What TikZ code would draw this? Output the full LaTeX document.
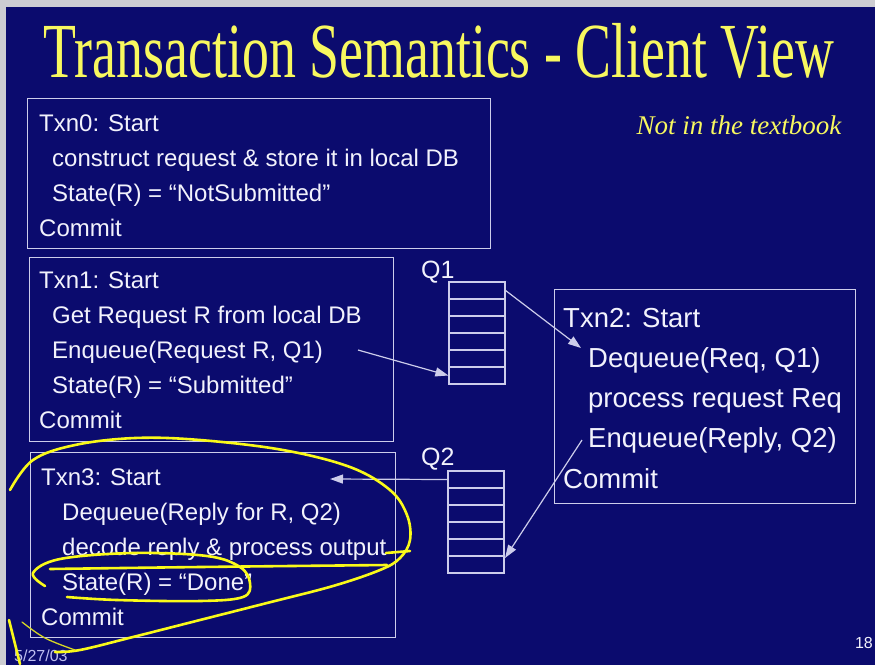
\documentclass[tikz,border=0pt]{standalone}
\usepackage{fontspec}
\setmainfont{Liberation Sans}
\newfontfamily\titlefont[FakeStretch=0.69]{Liberation Serif}
\newfontfamily\notefont{Liberation Serif}
\usetikzlibrary{arrows.meta}

\definecolor{slidebg}{RGB}{11,11,110}
\definecolor{framegrey}{RGB}{205,205,210}
\definecolor{inkwhite}{RGB}{242,242,252}
\definecolor{rulecol}{RGB}{205,205,235}
\definecolor{titleyellow}{RGB}{248,248,95}
\definecolor{penyellow}{RGB}{250,250,25}
\definecolor{footcol}{RGB}{190,190,240}

\tikzset{
  txnbox/.style={draw=rulecol, line width=1.3pt, inner sep=0pt, anchor=north west},
  txt/.style={text=inkwhite, inner sep=0pt, anchor=base west,
    font=\fontsize{24}{35}\selectfont},
  bigtxt/.style={txt, font=\fontsize{27.5}{40.25}\selectfont},
  cell/.style={draw=rulecol, line width=1.2pt, minimum width=56pt,
    minimum height=17pt, inner sep=0pt},
  qlabel/.style={text=inkwhite, inner sep=0pt, anchor=base west,
    font=\fontsize{25}{25}\selectfont},
  flow/.style={draw=rulecol, line width=1.2pt,
    -{Triangle[length=13pt,width=9pt]}},
  pen/.style={draw=penyellow, line width=2.6pt, line cap=round, line join=round},
  thinpen/.style={draw=penyellow!85!slidebg, line width=1.3pt, line cap=round}
}

\begin{document}
\begin{tikzpicture}[x=1pt, y=-1pt]
\useasboundingbox (0,0) rectangle (875,665);
\clip (0,0) rectangle (875,665);

% slide frame and background
\fill[framegrey] (0,0) rectangle (875,665);
\fill[slidebg] (6,7) rectangle (875,665);

% title and side note
\node[font=\titlefont\fontsize{78}{78}\selectfont, text=titleyellow,
  anchor=base, inner sep=0pt] (title) at (439,77)
  {Transaction Semantics - Client View};
\node[font=\notefont\itshape\fontsize{27}{27}\selectfont, text=titleyellow,
  anchor=base, inner sep=0pt] (note) at (739,134) {Not in the textbook};

% transaction boxes
\node[txnbox, minimum width=463pt, minimum height=150pt] (b0) at (27,98) {};
\node[txnbox, minimum width=364pt, minimum height=184pt] (b1) at (29,257) {};
\node[txnbox, minimum width=365pt, minimum height=185pt] (b3) at (30,452) {};
\node[txnbox, minimum width=301pt, minimum height=214pt] (b2) at (554,289) {};

\node[txt] (t0) at (39,131) {\begin{tabular}[t]{@{}l@{}}
  Txn0: Start\\
  \hspace*{13pt}construct request \& store it in local DB\\
  \hspace*{13pt}State(R) = “NotSubmitted”\\
  Commit
\end{tabular}};

\node[txt] (t1) at (39,288) {\begin{tabular}[t]{@{}l@{}}
  Txn1: Start\\
  \hspace*{13pt}Get Request R from local DB\\
  \hspace*{13pt}Enqueue(Request R, Q1)\\
  \hspace*{13pt}State(R) = “Submitted”\\
  Commit
\end{tabular}};

\node[txt] (t3) at (41,485) {\begin{tabular}[t]{@{}l@{}}
  Txn3: Start\\
  \hspace*{21pt}Dequeue(Reply for R, Q2)\\
  \hspace*{21pt}decode reply \& process output\\
  \hspace*{21pt}State(R) = “Done”\\
  Commit
\end{tabular}};

\node[bigtxt] (t2) at (563,327) {\begin{tabular}[t]{@{}l@{}}
  Txn2: Start\\
  \hspace*{25pt}Dequeue(Req, Q1)\\
  \hspace*{25pt}process request Req\\
  \hspace*{25pt}Enqueue(Reply, Q2)\\
  Commit
\end{tabular}};

% queues
\foreach \i in {1,...,6} {
  \node[cell] (q1c\i) at (477,{273.5+17*\i}) {};
  \node[cell] (q2c\i) at (476,{462.5+17*\i}) {};
}
\node[qlabel] (q1) at (421,278) {Q1};
\node[qlabel] (q2) at (421,465) {Q2};

% connector end points
\coordinate (enq1) at (358,350);
\coordinate (deq1) at (581,348);
\coordinate (enq2) at (582,440);
\coordinate (deq2) at (330,479);
\coordinate (q2in) at (505,558);

\draw[flow] (enq1) -- (q1c6.west);
\draw[flow] (q1c1.east) -- (deq1);
\draw[flow] (enq2) -- (q2in);
\draw[flow] (q2c1.west) -- (deq2);

% footer
\node[text=footcol, font=\fontsize{16}{16}\selectfont, anchor=base west,
  inner sep=0pt] (date) at (14,661) {5/27/03};
\node[text=inkwhite, font=\fontsize{16}{16}\selectfont, anchor=base east,
  inner sep=0pt] (page) at (873,648) {18};

% hand-drawn highlighting
\draw[pen] plot[smooth, tension=0.6] coordinates {
  (10,490) (33,460) (75,445) (135,438) (200,440) (283,450) (350,467)
  (390,490) (407,515) (410,540) (400,558) (380,570) (333,586) (267,603)
  (200,620) (133,637) (80,650) (55,652)};
\draw[pen] (386,553) -- (410,551);
\draw[pen] plot[smooth, tension=0.6] coordinates {
  (50,569) (200,567) (387,565)};
\draw[pen] plot[smooth, tension=0.6] coordinates {
  (45,586) (33,573) (60,559) (133,553) (207,556) (240,567) (250,583)
  (243,597) (200,601) (117,600) (67,597)};
\draw[pen] plot[smooth, tension=0.6] coordinates {(9,620) (14,640) (20,664)};
\draw[thinpen] plot[smooth, tension=0.6] coordinates {(22,622) (45,638) (75,650)};

\end{tikzpicture}
\end{document}
